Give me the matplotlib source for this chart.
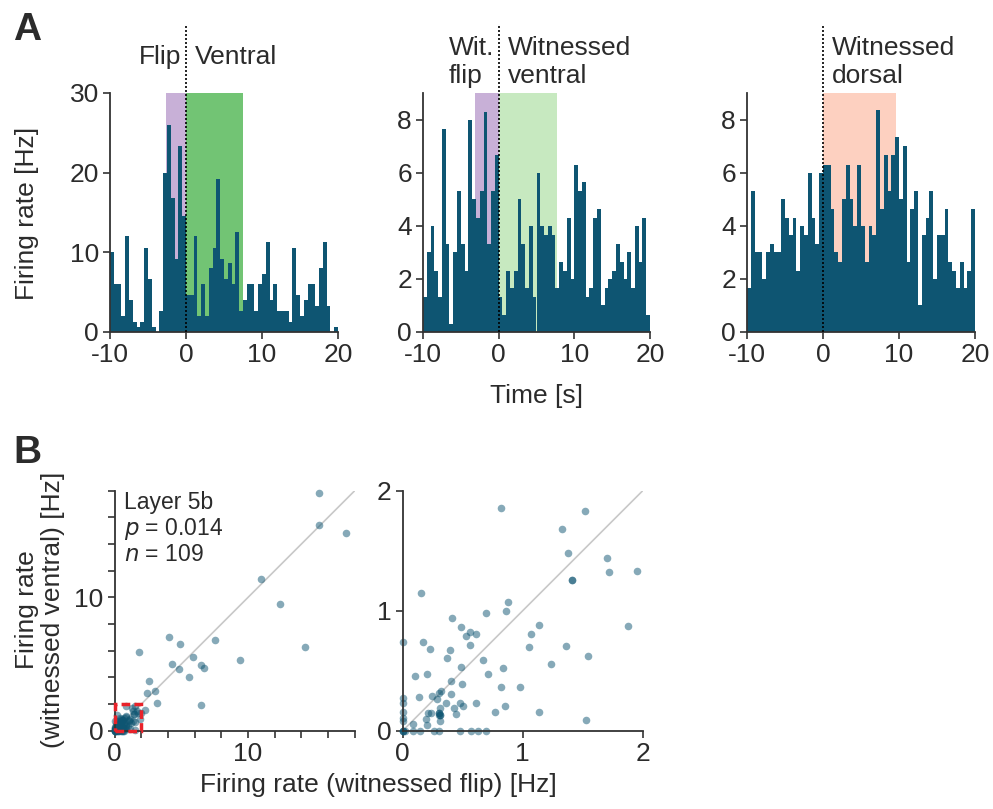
import numpy as np
import matplotlib
matplotlib.use("Agg")
import matplotlib.pyplot as plt
from matplotlib.patches import Rectangle

plt.rcParams["font.family"] = ["Liberation Sans", "DejaVu Sans"]
plt.rcParams["axes.unicode_minus"] = False
plt.rcParams["text.color"] = "#2b2b2b"
plt.rcParams["axes.labelcolor"] = "#2b2b2b"
plt.rcParams["xtick.color"] = "#333333"
plt.rcParams["ytick.color"] = "#333333"
plt.rcParams["xtick.labelcolor"] = "#2b2b2b"
plt.rcParams["ytick.labelcolor"] = "#2b2b2b"

# ---- panel A: PSTH data, 0.5 s bins from -10 to 20 s ----
bin_left = np.arange(-10, 20, 0.5)

rate_flip_ventral = [10, 6, 6, 2, 12, 4, 1.3, 0.6, 1.3, 10.6,
                     6.6, 0.6, 0, 2.6, 20, 26, 16.8, 9.2, 23.3, 14.5,
                     4.6, 4.6, 12, 2, 6, 2, 8, 10.6, 19.2, 9.2,
                     6.6, 8.6, 6, 12.6, 2.6, 4, 6, 6, 2.6, 6,
                     7.3, 11.3, 4, 6, 2.6, 2.6, 2.6, 1.3, 10.6, 4.6,
                     2, 4, 6, 6, 3.3, 8, 11.3, 3.3, 0, 0.6]

rate_wit_ventral = [1.32, 3.0, 4.0, 2.3, 1.32, 7.66, 3.3, 0.3, 3.0, 5.3,
                    3.3, 2.3, 8.0, 5.0, 4.3, 5.3, 8.3, 3.3, 5.3, 6.65,
                    1.32, 0.65, 2.3, 1.64, 2.3, 5.0, 3.3, 1.64, 4.0, 1.32,
                    6.0, 4.0, 3.65, 4.0, 3.65, 1.64, 2.65, 2.3, 4.3, 2.0,
                    6.3, 5.3, 5.65, 1.32, 1.64, 4.3, 4.65, 1.0, 1.64, 2.0,
                    2.3, 3.3, 2.65, 2.0, 3.0, 1.64, 4.0, 2.65, 4.3, 0.65]

rate_wit_dorsal = [1.64, 5.3, 3.0, 3.0, 2.0, 3.0, 3.3, 3.0, 3.0, 5.0,
                   4.3, 3.65, 4.3, 2.3, 4.0, 3.65, 6.0, 4.3, 3.3, 6.0,
                   6.3, 6.3, 4.65, 3.0, 2.65, 5.0, 6.3, 5.0, 4.0, 6.3,
                   4.0, 2.65, 4.0, 3.65, 8.35, 4.65, 6.65, 5.3, 6.65, 7.33,
                   5.0, 7.0, 2.65, 4.65, 5.3, 1.0, 3.65, 4.3, 5.3, 2.0,
                   3.65, 3.65, 4.65, 2.65, 2.3, 1.64, 2.65, 1.64, 2.3, 4.65]

# ---- panel B: per-cell firing rates (witnessed flip, witnessed ventral) ----
flip_hz = [15.3, 15.3, 17.35, 11.0, 12.4, 14.3, 4.05, 4.9, 7.5, 1.8,
           5.9, 4.3, 4.8, 6.5, 6.7, 9.4, 5.6, 2.55, 2.45, 3.0,
           3.2, 6.5, 2.3,
           0.817, 1.522, 1.325, 1.381, 1.7, 1.722, 1.95, 1.414, 1.414, 0.153,
           0.881, 0.864, 0.692, 0.414, 0.486, 0.558, 0.528, 0.611, 1.136, 1.069,
           1.878, 0.0, 0.169, 0.228, 0.558, 0.394, 0.369, 1.05, 1.361, 1.547,
           0.672, 1.236, 0.486, 0.836, 0.103, 0.206, 0.714, 0.403, 0.497, 0.817,
           0.975, 0.319, 0.133, 0.244, 0.306, 0.283, 0.406, 0.0, 0.0, 0.358,
           0.478, 0.5, 0.614, 0.425, 0.308, 0.853, 0.0, 0.208, 0.233, 0.3,
           0.3, 0.308, 0.308, 0.447, 0.772, 1.136, 0.194, 0.0, 0.0, 0.308,
           0.083, 0.2, 1.525, 0.0, 0.0, 0.0, 0.022, 0.089, 0.144, 0.264,
           0.306, 0.478, 0.569, 0.631, 0.692, 0.306]
ventral_hz = [17.8, 15.45, 14.8, 11.35, 9.5, 6.3, 7.0, 6.5, 6.8, 5.9,
              5.5, 5.0, 4.6, 4.95, 4.7, 5.3, 4.0, 3.7, 2.8, 3.0,
              2.1, 1.9, 1.55,
              1.858, 1.828, 1.678, 1.481, 1.442, 1.319, 1.333, 1.258, 1.258, 1.147,
              1.072, 0.994, 0.978, 0.939, 0.867, 0.819, 0.789, 0.808, 0.881, 0.803,
              0.869, 0.736, 0.739, 0.678, 0.711, 0.672, 0.608, 0.7, 0.703, 0.625,
              0.592, 0.553, 0.533, 0.525, 0.458, 0.469, 0.469, 0.411, 0.386, 0.361,
              0.367, 0.333, 0.283, 0.292, 0.311, 0.261, 0.308, 0.269, 0.228, 0.228,
              0.228, 0.208, 0.233, 0.192, 0.189, 0.203, 0.153, 0.147, 0.147, 0.147,
              0.147, 0.128, 0.128, 0.136, 0.153, 0.156, 0.1, 0.108, 0.083, 0.078,
              0.053, 0.047, 0.086, 0.0, 0.0, 0.0, 0.0, 0.0, 0.0, 0.0,
              0.0, 0.0, 0.0, 0.0, 0.0, 0.128]

bar_color = "#0e5572"
dot_color = "#0e5572"
purple = "#c8b0d7"

W, H = 993, 809
fig = plt.figure(figsize=(W / 100, H / 100), dpi=100)


def ax_px(left, top, right, bottom):
    return fig.add_axes([left / W, 1 - bottom / H, (right - left) / W, (bottom - top) / H])


def style(ax):
    for s in ["top", "right"]:
        ax.spines[s].set_visible(False)
    for s in ["left", "bottom"]:
        ax.spines[s].set_linewidth(1.3)
        ax.spines[s].set_color("#333333")
    ax.tick_params(direction="out", length=5, width=1.2, labelsize=19, pad=3)


fs = 19
psth = [
    (ax_px(110, 93, 338, 332), rate_flip_ventral, 30, [0, 10, 20, 30],
     [(-2.6, 0, purple), (0, 7.5, "#72c474")],
     [("Flip", "right"), ("Ventral", "left")], 1.15),
    (ax_px(423, 93, 650, 332), rate_wit_ventral, 9, [0, 2, 4, 6, 8],
     [(-3.1, 0, purple), (0, 7.7, "#c7e9c0")],
     [("Wit.\nflip", "right"), ("Witnessed\nventral", "left")], 1.13),
    (ax_px(747, 93, 975, 332), rate_wit_dorsal, 9, [0, 2, 4, 6, 8],
     [(0, 9.6, "#fdd0c0")],
     [("Witnessed\ndorsal", "left")], 1.13),
]

for ax, rates, ymax, yt, spans, labels, ylab in psth:
    for x0, x1, c in spans:
        ax.axvspan(x0, x1, color=c, lw=0, zorder=0)
    ax.bar(bin_left, rates, width=0.5, align="edge", color=bar_color, lw=0, zorder=1)
    ax.set_xlim(-10, 20)
    ax.set_ylim(0, ymax)
    ax.set_xticks([-10, 0, 10, 20])
    ax.set_yticks(yt)
    style(ax)
    tr = ax.get_xaxis_transform()
    ax.plot([0, 0], [0, 1.29], transform=tr, color="black", lw=1.2,
            ls=(0, (1.2, 1.2)), clip_on=False, zorder=3)
    for txt, side in labels:
        if side == "right":
            ax.text(-0.6, ylab, txt, transform=tr, ha="right", va="center",
                    fontsize=fs, linespacing=1.25, multialignment="left")
        else:
            ax.text(1.2, ylab, txt, transform=tr, ha="left", va="center",
                    fontsize=fs, linespacing=1.25)

fig.text(27 / W, 1 - 213 / H, "Firing rate [Hz]", rotation=90, ha="center",
         va="center", fontsize=fs)
fig.text(536 / W, 1 - 396 / H, "Time [s]", ha="center", va="center", fontsize=fs)

# ---- panel B ----
flip = np.array(flip_hz)
ventral = np.array(ventral_hz)

b1 = ax_px(114.7, 490.7, 354.7, 730.7)
b1.plot([0, 18], [0, 18], color="#c8c8c8", lw=1.2, zorder=1)
b1.scatter(flip, ventral, s=30, color=dot_color, alpha=0.5, lw=0, zorder=2, clip_on=False)
b1.add_patch(Rectangle((0, 0), 2, 2, fill=False, edgecolor="#e8222a", lw=2.5,
                       ls=(0, (2.5, 1.2)), zorder=4, clip_on=False))
b1.set_xlim(0, 18)
b1.set_ylim(0, 18)
ticks = np.arange(0, 19, 2)
tlabels = ["0" if t == 0 else "10" if t == 10 else "" for t in ticks]
b1.set_xticks(ticks)
b1.set_xticklabels(tlabels)
b1.set_yticks(ticks)
b1.set_yticklabels(tlabels)
style(b1)
b1.text(0.04, 1.0, "Layer 5b\n$p$ = 0.014\n$n$ = 109", transform=b1.transAxes,
        ha="left", va="top", fontsize=16.5, linespacing=1.1)

inside = (flip <= 2) & (ventral <= 2)
b2 = ax_px(402.7, 490.7, 642.7, 730.7)
b2.plot([0, 2], [0, 2], color="#c8c8c8", lw=1.2, zorder=1)
b2.scatter(flip[inside], ventral[inside], s=30, color=dot_color, alpha=0.5, lw=0,
           zorder=2, clip_on=False)
b2.set_xlim(0, 2)
b2.set_ylim(0, 2)
b2.set_xticks([0, 1, 2])
b2.set_yticks([0, 1, 2])
style(b2)

fig.text(40 / W, 1 - 610 / H, "Firing rate\n(witnessed ventral) [Hz]", rotation=90,
         ha="center", va="center", fontsize=fs, multialignment="center",
         linespacing=1.1)
fig.text(378 / W, 1 - 785 / H, "Firing rate (witnessed flip) [Hz]", ha="center",
         va="center", fontsize=fs)

fig.text(13 / W, 1 - 12 / H, "A", ha="left", va="top", fontsize=28, fontweight="bold")
fig.text(13 / W, 1 - 435 / H, "B", ha="left", va="top", fontsize=28, fontweight="bold")

fig.savefig("out.png", dpi=100)
